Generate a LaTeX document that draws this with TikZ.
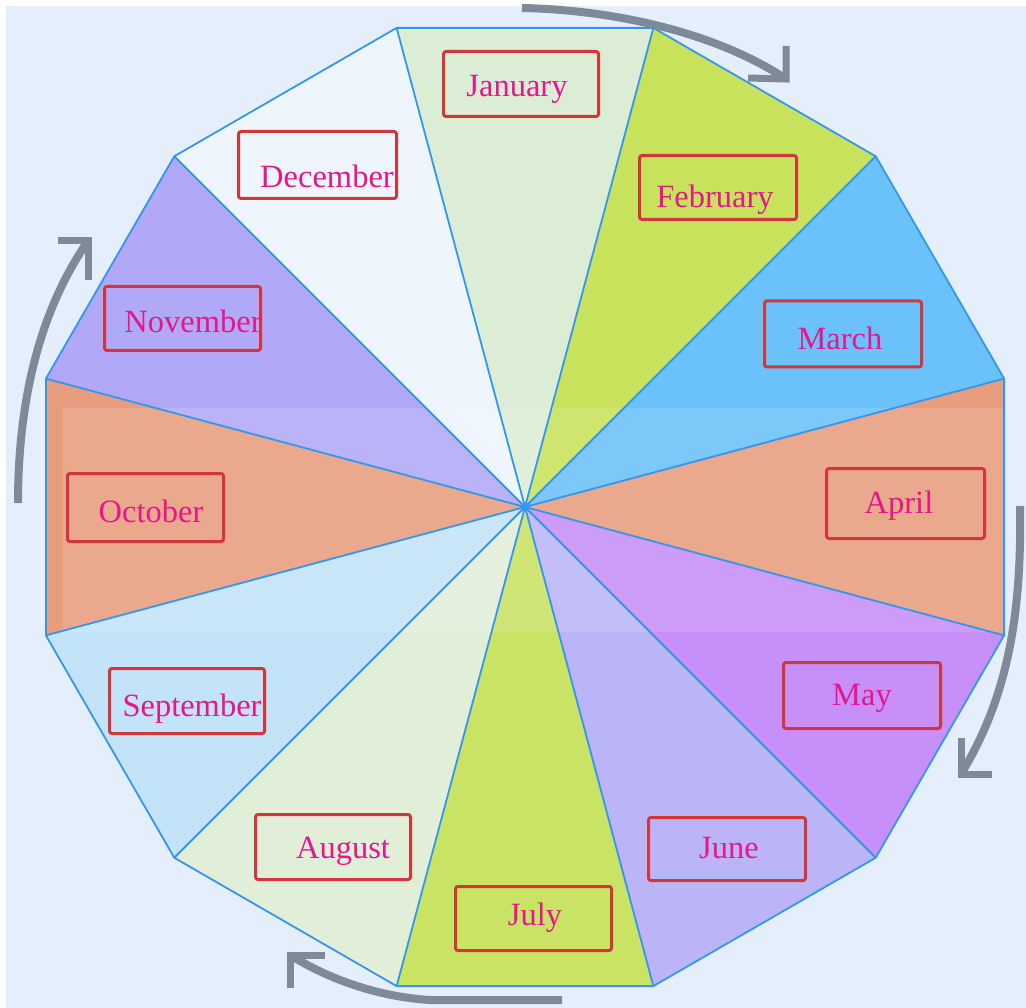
\documentclass[tikz,border=0pt]{standalone}
\usepackage{fontspec}
\setmainfont{Liberation Serif}
\definecolor{bgblue}{HTML}{E4EFFB}
\definecolor{cjan}{HTML}{DCEDD6}
\definecolor{cfeb}{HTML}{C8E35B}
\definecolor{cmar}{HTML}{6BC1F9}
\definecolor{capr}{HTML}{E89D7E}
\definecolor{cmay}{HTML}{C78FF8}
\definecolor{cjun}{HTML}{BBB5F8}
\definecolor{cjul}{HTML}{C9E364}
\definecolor{caug}{HTML}{E1EFD9}
\definecolor{csep}{HTML}{C3E3F9}
\definecolor{coct}{HTML}{E89D7E}
\definecolor{cnov}{HTML}{B1A9F8}
\definecolor{cdec}{HTML}{EEF5FD}
\definecolor{edgeblue}{HTML}{3596F0}
\definecolor{boxred}{HTML}{D2363A}
\definecolor{monthmag}{HTML}{E6168C}
\definecolor{arrowgray}{HTML}{7E8A97}
\begin{document}
\begin{tikzpicture}[x=1pt,y=-1pt,
  sectorline/.style={draw=edgeblue, line width=1.8pt, line join=round},
  monthbox/.style={draw=boxred, line width=3pt, rounded corners=2.5pt, inner sep=0pt},
  monthtext/.style={text=monthmag, font=\fontsize{32.5}{36}\selectfont, anchor=base, inner sep=0pt},
  cyclearrow/.style={draw=arrowgray, line width=8pt},
  arrowhead/.style={draw=arrowgray, line width=7pt, line join=miter}]
\useasboundingbox (0,0) rectangle (1026,1008);
\fill[white] (0,0) rectangle (1026,1008);
\fill[bgblue] (6,6) rectangle (1026,1008);
\coordinate (c) at (525,507);
\foreach \k in {0,...,11}
  \coordinate (v\k) at ({525+496*cos(105-30*\k)},{507-496*sin(105-30*\k)});
\foreach \k/\col in {0/cjan,1/cfeb,2/cmar,3/capr,4/cmay,5/cjun,6/cjul,7/caug,8/csep,9/coct,10/cnov,11/cdec}{
  \pgfmathtruncatemacro\n{mod(\k+1,12)}
  \fill[\col] (c) -- (v\k) -- (v\n) -- cycle;
}
% faint lighter band
\fill[white, opacity=0.12] (63,408) rectangle (1003,632);
\draw[sectorline] (v0) -- (v1) -- (v2) -- (v3) -- (v4) -- (v5) -- (v6) -- (v7) -- (v8) -- (v9) -- (v10) -- (v11) -- cycle;
\foreach \k in {0,...,11} \draw[sectorline] (c) -- (v\k);
% boxes
\node[monthbox, minimum width=155pt, minimum height=65pt] (bjan) at (521,84) {};
\node[monthbox, minimum width=157pt, minimum height=64pt] (bfeb) at (718,187.5) {};
\node[monthbox, minimum width=157pt, minimum height=66pt] (bmar) at (843,334) {};
\node[monthbox, minimum width=158pt, minimum height=70pt] (bapr) at (905.5,503.5) {};
\node[monthbox, minimum width=157pt, minimum height=66pt] (bmay) at (862,695.5) {};
\node[monthbox, minimum width=157pt, minimum height=63pt] (bjun) at (727,849) {};
\node[monthbox, minimum width=156pt, minimum height=64pt] (bjul) at (533.5,918.5) {};
\node[monthbox, minimum width=155pt, minimum height=65pt] (baug) at (333,847) {};
\node[monthbox, minimum width=155pt, minimum height=65pt] (bsep) at (187,701) {};
\node[monthbox, minimum width=156pt, minimum height=68pt] (boct) at (145.5,507.5) {};
\node[monthbox, minimum width=156pt, minimum height=64pt] (bnov) at (182.5,318.5) {};
\node[monthbox, minimum width=158pt, minimum height=67pt] (bdec) at (317.5,165) {};
% texts
\node[monthtext] (tjan) at (517,97) {January};
\node[monthtext] (tfeb) at (715,208) {February};
\node[monthtext] (tmar) at (840,350) {March};
\node[monthtext] (tapr) at (899,513) {April};
\node[monthtext] (tmay) at (862,705) {May};
\node[monthtext] (tjun) at (729,858) {June};
\node[monthtext] (tjul) at (535,925) {July};
\node[monthtext] (taug) at (343,858) {August};
\node[monthtext] (tsep) at (192,716) {September};
\node[monthtext] (toct) at (151,522) {October};
\node[monthtext] (tnov) at (193,333) {November};
\node[monthtext] (tdec) at (327,188) {December};
% cycle arrows
\draw[cyclearrow] (522,8) .. controls (620,10) and (720,35) .. (786,79);
\draw[arrowhead] (748,78) -- (786,79) -- (786,46);
\draw[cyclearrow] (1020,506) .. controls (1022,620) and (1006,700) .. (961,774);
\draw[arrowhead] (961,738) -- (961,774) -- (992,774);
\draw[cyclearrow] (562,1000) -- (430,1000) .. controls (380,997) and (330,980) .. (290,955);
\draw[arrowhead] (290,988) -- (290,955) -- (325,955);
\draw[cyclearrow] (18,503) .. controls (18,400) and (40,310) .. (88,241);
\draw[arrowhead] (58,241) -- (88,241) -- (88,280);
\end{tikzpicture}
\end{document}
